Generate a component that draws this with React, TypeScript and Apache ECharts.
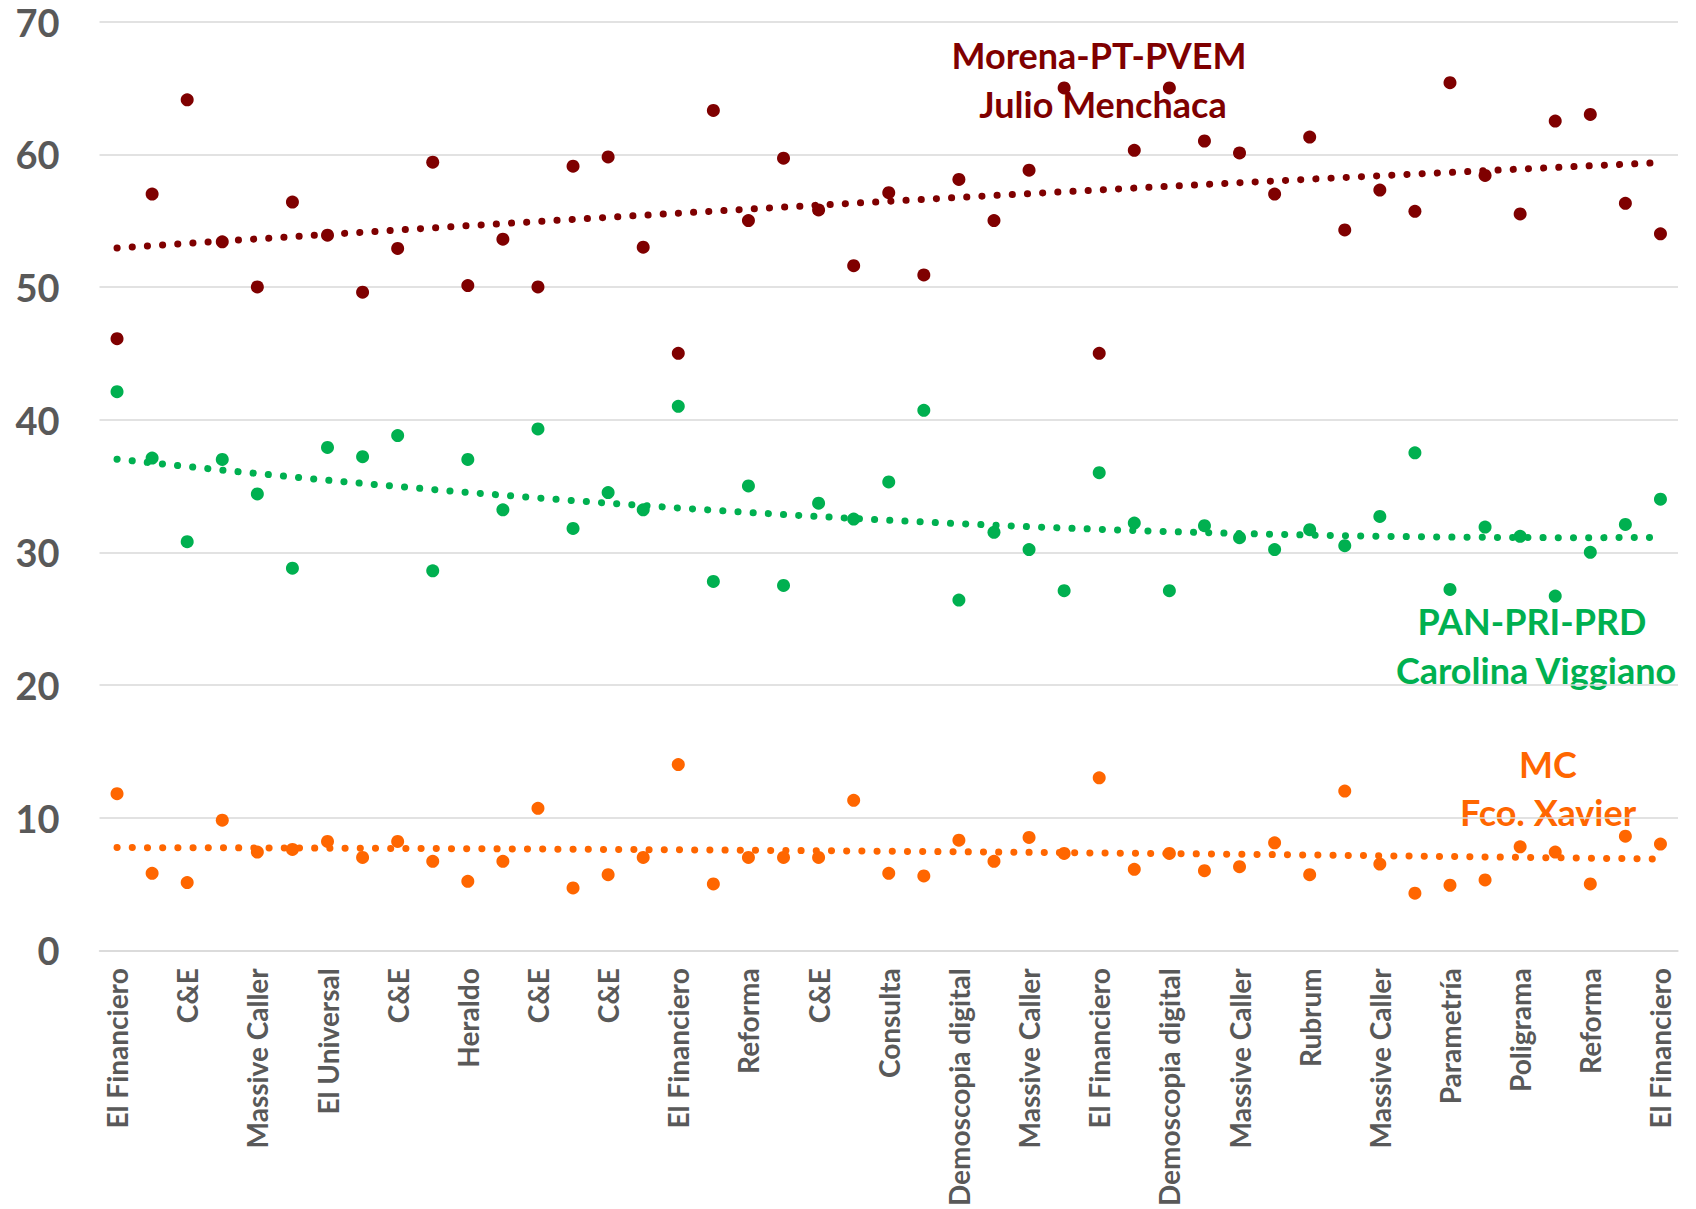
import React, { useEffect, useRef } from "react";
import * as echarts from "echarts";

const categories = [
  "El Financiero", "Massive Caller", "C&E", "Demoscopia digital", "Massive Caller",
  "Rubrum", "El Universal", "Massive Caller", "C&E", "Poligrama",
  "Heraldo", "Massive Caller", "C&E", "Demoscopia digital", "C&E",
  "Massive Caller", "El Financiero", "Rubrum", "Reforma", "Massive Caller",
  "C&E", "Demoscopia digital", "Consulta", "Massive Caller", "Demoscopia digital",
  "Rubrum", "Massive Caller", "Poligrama", "El Financiero", "Demoscopia digital",
  "Demoscopia digital", "Massive Caller", "Massive Caller", "Rubrum", "Rubrum",
  "Demoscopia digital", "Massive Caller", "Rubrum", "Parametría", "Rubrum",
  "Poligrama", "Massive Caller", "Reforma", "Demoscopia digital", "El Financiero",
];

const morena = [
  46.1, 57.0, 64.1, 53.4, 50.0, 56.4, 53.9, 49.6, 52.9, 59.4,
  50.1, 53.6, 50.0, 59.1, 59.8, 53.0, 45.0, 63.3, 55.0, 59.7,
  55.8, 51.6, 57.1, 50.9, 58.1, 55.0, 58.8, 65.0, 45.0, 60.3,
  65.0, 61.0, 60.1, 57.0, 61.3, 54.3, 57.3, 55.7, 65.4, 58.4,
  55.5, 62.5, 63.0, 56.3, 54.0,
];

const panPriPrd = [
  42.1, 37.1, 30.8, 37.0, 34.4, 28.8, 37.9, 37.2, 38.8, 28.6,
  37.0, 33.2, 39.3, 31.8, 34.5, 33.2, 41.0, 27.8, 35.0, 27.5,
  33.7, 32.5, 35.3, 40.7, 26.4, 31.5, 30.2, 27.1, 36.0, 32.2,
  27.1, 32.0, 31.1, 30.2, 31.7, 30.5, 32.7, 37.5, 27.2, 31.9,
  31.2, 26.7, 30.0, 32.1, 34.0,
];

const mc = [
  11.8, 5.8, 5.1, 9.8, 7.4, 7.6, 8.2, 7.0, 8.2, 6.7,
  5.2, 6.7, 10.7, 4.7, 5.7, 7.0, 14.0, 5.0, 7.0, 7.0,
  7.0, 11.3, 5.8, 5.6, 8.3, 6.7, 8.5, 7.3, 13.0, 6.1,
  7.3, 6.0, 6.3, 8.1, 5.7, 12.0, 6.5, 4.3, 4.9, 5.3,
  7.8, 7.4, 5.0, 8.6, 8.0,
];

const yMin = 0;
const yMax = 70;
const yStep = 10;

const MAROON = "#7F0000";
const GREEN = "#00B050";
const ORANGE = "#FF6600";
const FONT = "Lato";

// Excel-style polynomial (order 2) trendline: least squares fit of the data
function quadFit(v: number[]): number[] {
  const n = v.length;
  let s1 = 0, s2 = 0, s3 = 0, s4 = 0, t0 = 0, t1 = 0, t2 = 0;
  for (let i = 0; i < n; i++) {
    const x = i + 1;
    s1 += x; s2 += x * x; s3 += x * x * x; s4 += x * x * x * x;
    t0 += v[i]; t1 += x * v[i]; t2 += x * x * v[i];
  }
  const m = [
    [n, s1, s2],
    [s1, s2, s3],
    [s2, s3, s4],
  ];
  const r = [t0, t1, t2];
  const det = (a: number[][]) =>
    a[0][0] * (a[1][1] * a[2][2] - a[1][2] * a[2][1]) -
    a[0][1] * (a[1][0] * a[2][2] - a[1][2] * a[2][0]) +
    a[0][2] * (a[1][0] * a[2][1] - a[1][1] * a[2][0]);
  const D = det(m);
  const col = (k: number) => m.map((row, i) => row.map((c, j) => (j === k ? r[i] : c)));
  const a = det(col(0)) / D;
  const b = det(col(1)) / D;
  const c = det(col(2)) / D;
  return v.map((_, i) => {
    const x = i + 1;
    return a + b * x + c * x * x;
  });
}

function scatter(name: string, data: number[], color: string) {
  return {
    name,
    type: "scatter",
    data,
    symbol: "circle",
    symbolSize: 13,
    itemStyle: { color, opacity: 1 },
    z: 2,
  };
}

function trend(name: string, data: number[], color: string) {
  return {
    name,
    type: "line",
    data: quadFit(data),
    showSymbol: false,
    symbol: "none",
    smooth: false,
    silent: true,
    lineStyle: { color, width: 7, type: [0.1, 15.1], cap: "round", opacity: 1 },
    z: 3,
  };
}

export default function App() {
  const ref = useRef<HTMLDivElement>(null);

  useEffect(() => {
    if (!ref.current) return;
    const chart = echarts.init(ref.current, null, { renderer: "svg" });
    const labelText = (text: string, x: number, y: number, color: string) => ({
      type: "text",
      x,
      y,
      style: {
        text,
        fill: color,
        font: `bold 36px ${FONT}`,
        textAlign: "center",
        textVerticalAlign: "middle",
      },
    });
    chart.setOption({
      animation: false,
      backgroundColor: "#ffffff",
      grid: { left: 99.5, right: 18, top: 21.6, bottom: 258, containLabel: false },
      xAxis: {
        type: "category",
        data: categories,
        boundaryGap: true,
        axisLine: { show: true, lineStyle: { color: "#D9D9D9", width: 1.5 } },
        axisTick: { show: false },
        axisLabel: {
          interval: 1,
          rotate: 90,
          margin: 18,
          color: "#595959",
          fontFamily: FONT,
          fontWeight: "bold",
          fontSize: 28,
        },
        splitLine: { show: false },
      },
      yAxis: {
        type: "value",
        min: yMin,
        max: yMax,
        interval: yStep,
        axisLine: { show: false },
        axisTick: { show: false },
        axisLabel: {
          margin: 40,
          color: "#595959",
          fontFamily: FONT,
          fontWeight: "bold",
          fontSize: 38,
        },
        splitLine: { show: true, lineStyle: { color: "#D9D9D9", width: 1.5 } },
      },
      series: [
        scatter("Morena-PT-PVEM", morena, MAROON),
        scatter("PAN-PRI-PRD", panPriPrd, GREEN),
        scatter("MC", mc, ORANGE),
        trend("Tendencia Morena", morena, MAROON),
        trend("Tendencia PAN-PRI-PRD", panPriPrd, GREEN),
        trend("Tendencia MC", mc, ORANGE),
      ],
      graphic: [
        labelText("Morena-PT-PVEM", 1099, 55, MAROON),
        labelText("Julio Menchaca", 1103, 104, MAROON),
        labelText("PAN-PRI-PRD", 1532, 621, GREEN),
        labelText("Carolina Viggiano", 1536, 670, GREEN),
        labelText("MC", 1548, 764, ORANGE),
        labelText("Fco. Xavier", 1548, 812, ORANGE),
      ],
    });
    return () => chart.dispose();
  }, []);

  return (
    <div
      ref={ref}
      style={{ position: "fixed", left: 0, top: 0, width: 1696, height: 1209 }}
    />
  );
}
